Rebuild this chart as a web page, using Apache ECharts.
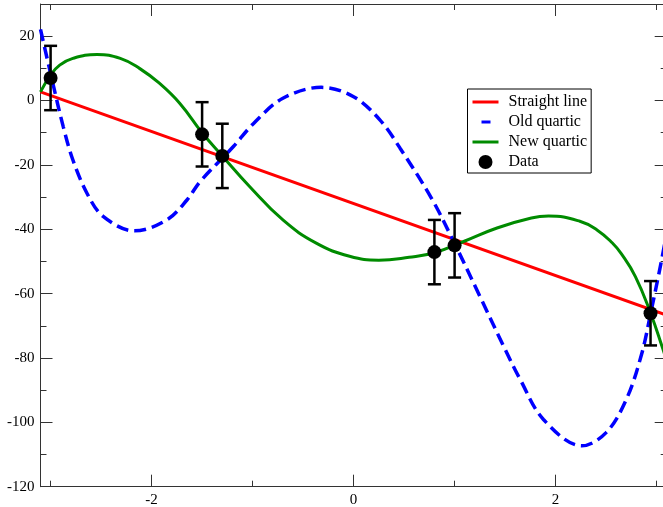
<!DOCTYPE html>
<html>
<head>
<meta charset="utf-8">
<script src="https://cdn.jsdelivr.net/npm/echarts@6/dist/echarts.min.js"></script>
<style>
  html, body { margin: 0; padding: 0; background: #fff; }
  #chart { width: 663px; height: 507px; }
</style>
</head>
<body>
<div id="chart"></div>
<script>
// axis ranges and ticks
const xMin = -3.1;
const xMax = 3.1;
const yMin = -120;
const yMax = 30;
const xMajorTicks = [-2, 0, 2];
const xMinorTicks = [-3, -1, 1, 3];
const yMajorTicks = [20, 0, -20, -40, -60, -80, -100, -120];
const yMinorTicks = [10, -10, -30, -50, -70, -90, -110];

// straight line fit
const lineX = [-3.1, 3.1];
const lineY = [2.7, -66.7];

// old quartic
const oldX = [-3.1, -2.97, -2.875, -2.78, -2.64, -2.48, -2.17, -1.85, -1.65, -1.52, -1.19, -0.99, -0.7, -0.32, 0.0, 0.26, 0.46, 0.77, 0.99, 1.25, 1.48, 1.65, 1.88, 2.26, 2.5, 2.7, 2.85, 2.94, 3.05, 3.1];
const oldY = [22.1, 4.3, -8.1, -18.4, -28.8, -36.0, -40.5, -37.1, -30.9, -25.2, -14.3, -7.1, 0.7, 4.1, 1.2, -6.0, -14.8, -30.3, -43.8, -60.8, -76.0, -86.7, -99.1, -107.3, -103.2, -92.9, -79.0, -66.3, -49.5, -41.0];

// new quartic
const newX = [-3.1, -3.0, -2.91, -2.78, -2.54, -2.31, -2.12, -1.92, -1.72, -1.5, -1.3, -1.03, -0.7, -0.37, -0.04, 0.25, 0.55, 0.8, 1.09, 1.42, 1.76, 1.93, 2.24, 2.41, 2.56, 2.65, 2.79, 2.94, 3.06, 3.1];
const newY = [2.7, 7.9, 11.0, 13.1, 14.3, 13.1, 10.0, 5.3, -0.9, -10.0, -17.2, -26.7, -37.1, -44.3, -48.4, -49.6, -48.7, -47.3, -43.8, -39.6, -36.5, -35.9, -37.5, -40.2, -44.2, -47.6, -54.7, -66.0, -77.0, -81.0];

// measured data with error bars
const dataX = [-3.0, -1.5, -1.3, 0.8, 1.0, 2.94];
const dataY = [7.0, -10.5, -17.2, -47.1, -45.0, -66.1];
const dataErr = [10, 10, 10, 10, 10, 10];

const legendNames = ['Straight line', 'Old quartic', 'New quartic', 'Data'];

const pairs = (xs, ys) => xs.map((x, i) => [x, ys[i]]);

const frameColor = '#333';
const labelStyle = {
  fontFamily: 'Liberation Serif',
  fontSize: 15,
  color: '#000',
};

// legend icons: a full-width bar, a short dash, a dot
const barIcon = 'path://M0,0 L26,0 L26,3 L0,3 Z';
const dashIcon = 'path://M0,0 M26,3 M9,0 L18,0 L18,3 L9,3 Z';

const makeAxis = (isX, position, ticks, len, withLine, withLabels) => ({
  type: 'value',
  position,
  offset: 0,
  min: isX ? xMin : yMin,
  max: isX ? xMax : yMax,
  axisLine: {
    show: withLine,
    onZero: false,
    lineStyle: { color: frameColor, width: 1 },
  },
  axisTick: {
    show: true,
    inside: true,
    length: len,
    customValues: ticks,
    lineStyle: { color: frameColor, width: 1 },
  },
  axisLabel: withLabels
    ? { show: true, customValues: ticks, margin: 6, ...labelStyle }
    : { show: false },
  splitLine: { show: false },
});

const chart = echarts.init(document.getElementById('chart'));

const option = {
  animation: false,
  backgroundColor: '#fff',
  grid: {
    left: 40.5,
    top: 4,
    right: -3.7,
    bottom: 20.3,
    outerBoundsMode: 'none',
  },
  xAxis: [
    makeAxis(true, 'bottom', xMajorTicks, 12, true, true),
    makeAxis(true, 'bottom', xMinorTicks, 6, false, false),
    makeAxis(true, 'top', xMajorTicks, 12, true, false),
    makeAxis(true, 'top', xMinorTicks, 6, false, false),
  ],
  yAxis: [
    makeAxis(false, 'left', yMajorTicks, 12, true, true),
    makeAxis(false, 'left', yMinorTicks, 6, false, false),
    makeAxis(false, 'right', yMajorTicks, 12, true, false),
    makeAxis(false, 'right', yMinorTicks, 6, false, false),
  ],
  legend: {
    data: [
      { name: legendNames[0], icon: barIcon },
      { name: legendNames[1], icon: dashIcon },
      { name: legendNames[2], icon: barIcon },
      { name: legendNames[3], icon: 'circle' },
    ],
    orient: 'vertical',
    left: 467.5,
    top: 89,
    itemWidth: 26,
    itemHeight: 14,
    itemGap: 4,
    symbolKeepAspect: true,
    padding: [5, 4, 3, 5],
    borderColor: '#000',
    borderWidth: 1,
    backgroundColor: '#fff',
    selectedMode: false,
    textStyle: {
      fontFamily: 'Liberation Serif',
      fontSize: 16,
      lineHeight: 16,
      color: '#000',
      padding: [0, 0, 0, 5],
    },
  },
  series: [
    {
      name: 'Straight line',
      type: 'line',
      data: pairs(lineX, lineY),
      symbol: 'none',
      lineStyle: { color: '#ff0000', width: 3 },
      itemStyle: { color: '#ff0000' },
      z: 2,
    },
    {
      name: 'Old quartic',
      type: 'line',
      data: pairs(oldX, oldY),
      smooth: 0.35,
      symbol: 'none',
      lineStyle: { color: '#0000ff', width: 3.5, type: [12, 6] },
      itemStyle: { color: '#0000ff' },
      z: 2,
    },
    {
      name: 'New quartic',
      type: 'line',
      data: pairs(newX, newY),
      smooth: 0.45,
      symbol: 'none',
      lineStyle: { color: '#008b00', width: 3 },
      itemStyle: { color: '#008b00' },
      z: 2,
    },
    {
      name: 'errors',
      type: 'custom',
      data: dataX.map((x, i) => [x, dataY[i], dataErr[i]]),
      encode: { x: 0, y: 1 },
      silent: true,
      z: 3,
      renderItem: (params, api) => {
        const x = api.value(0);
        const y = api.value(1);
        const e = api.value(2);
        const top = api.coord([x, y + e]);
        const bot = api.coord([x, y - e]);
        const half = 6.5;
        const style = { stroke: '#000', lineWidth: 2.5 };
        return {
          type: 'group',
          children: [
            { type: 'line', shape: { x1: top[0], y1: top[1], x2: bot[0], y2: bot[1] }, style },
            { type: 'line', shape: { x1: top[0] - half, y1: top[1], x2: top[0] + half, y2: top[1] }, style },
            { type: 'line', shape: { x1: bot[0] - half, y1: bot[1], x2: bot[0] + half, y2: bot[1] }, style },
          ],
        };
      },
    },
    {
      name: 'Data',
      type: 'scatter',
      data: pairs(dataX, dataY),
      symbol: 'circle',
      symbolSize: 14,
      itemStyle: { color: '#000', opacity: 1 },
      z: 5,
    },
  ],
};

chart.setOption(option);
</script>
</body>
</html>
